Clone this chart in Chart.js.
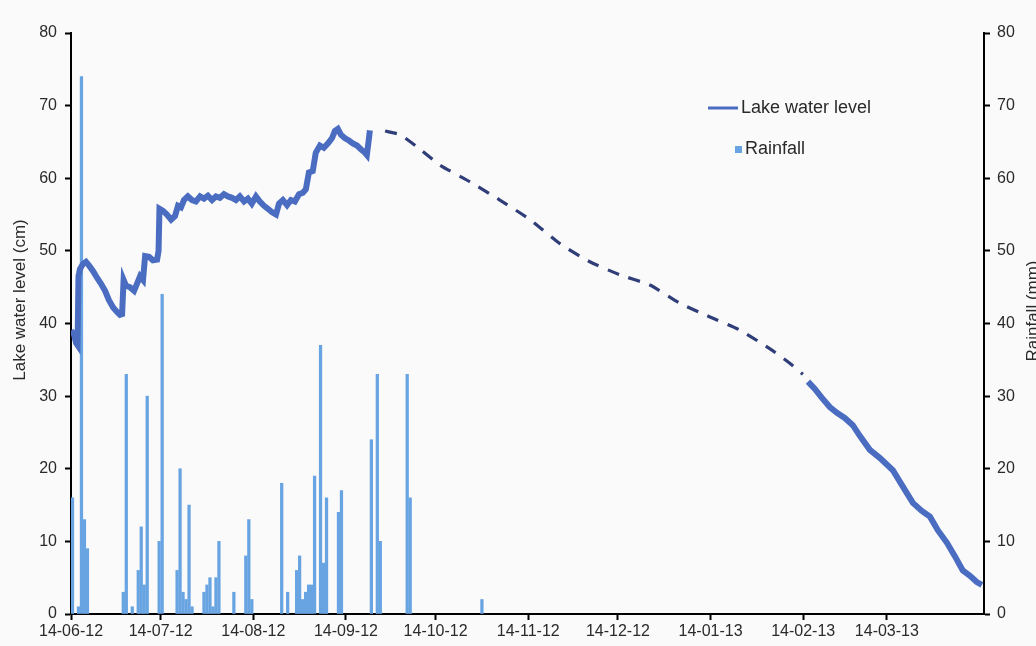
<!DOCTYPE html>
<html>
<head>
<meta charset="utf-8">
<script src="https://cdn.jsdelivr.net/npm/chart.js@4.4.1/dist/chart.umd.min.js"></script>
<style>
  html, body { margin: 0; padding: 0; background: #fafafa; }
  canvas { display: block; }
</style>
</head>
<body>
<canvas id="c" width="1036" height="646"></canvas>
<script>
// Days are counted from 14-06-12 (dd-mm-yy).
const tickDays   = [0, 30, 61, 92, 122, 153, 183, 214, 245, 273];
const tickLabels = ['14-06-12', '14-07-12', '14-08-12', '14-09-12', '14-10-12',
                    '14-11-12', '14-12-12', '14-01-13', '14-02-13', '14-03-13'];

// Measured lake level, first logger period (cm)
const levelDayA = [0, 1.0, 1.7, 2.2, 2.5, 3.0, 4.0, 5.0, 6.0, 7.4, 8.7, 10.0, 11.4, 12.7, 14.1, 15.4,
  16.4, 17.1, 17.6, 18.4, 19.7, 21.1, 22.1, 23.1, 24.1, 24.8, 26.1, 27.4, 28.8, 29.3, 29.6, 30.8,
  32.1, 33.5, 34.8, 35.8, 36.8, 37.8, 39.1, 40.5, 41.8, 43.2, 44.5, 45.8, 47.2, 48.5, 49.8, 51.2,
  52.5, 53.9, 55.2, 56.5, 57.9, 59.2, 60.5, 61.9, 63.2, 64.6, 65.9, 67.3, 68.6, 69.6, 70.9, 72.3,
  73.6, 74.9, 76.3, 77.6, 78.6, 79.6, 80.9, 81.9, 83.3, 84.6, 86.0, 87.3, 88.3, 89.3, 90.3, 91.7,
  93.0, 94.3, 95.7, 97.0, 98.4, 99.0, 99.7, 100.0];
const levelCmA = [39, 38.5, 37.3, 37.0, 46.5, 47.5, 48.2, 48.5, 48, 47.2, 46.3, 45.5, 44.5, 43.2, 42.2, 41.6,
  41.2, 41.3, 46, 45.2, 45.0, 44.5, 45.5, 46.5, 46.0, 49.3, 49.2, 48.7, 48.8, 50, 55.8, 55.5,
  55, 54.3, 54.8, 56.2, 56, 57, 57.5, 57, 56.8, 57.5, 57.2, 57.6, 57, 57.5, 57.3, 57.8,
  57.5, 57.3, 57, 57.5, 56.8, 57.2, 56.5, 57.5, 56.8, 56.2, 55.8, 55.3, 55.0, 56.5, 57, 56.3,
  57, 56.8, 57.8, 58, 58.5, 60.8, 61, 63.5, 64.5, 64.2, 64.8, 65.5, 66.5, 66.8, 66, 65.5,
  65.2, 64.8, 64.5, 64.0, 63.5, 63.2, 65.5, 66.6];

// Estimated lake level between logger periods (cm)
const levelDayEst = [105.1, 110.1, 116.8, 123.5, 133.5, 143.5, 153.6, 163.6, 173.6, 183.7,
  193.7, 203.7, 213.8, 223.8, 233.9, 240.6, 244.9];
const levelCmEst = [66.5, 66, 64, 61.8, 59.5, 57, 54.3, 51, 48.5, 46.7,
  45.3, 42.8, 40.9, 39.1, 36.5, 34.5, 33];

// Measured lake level, second logger period (cm)
const levelDayB = [246.6, 248.9, 251.2, 253.9, 256.3, 258.9, 261.6, 264.0, 267.3, 270.6, 275.0,
  278.4, 281.7, 284.7, 287.4, 290.1, 293.1, 295.7, 298.4, 300.7, 303.1, 304.8];
const levelCmB = [32, 31, 29.8, 28.5, 27.7, 27, 26, 24.5, 22.6, 21.5, 19.8,
  17.5, 15.3, 14.2, 13.4, 11.5, 9.8, 8, 6, 5.3, 4.4, 4];

// Daily rainfall (mm)
const rainDay = [0, 2, 3, 4, 5, 17, 18, 20, 22, 23, 24, 25, 29, 30, 35, 36, 37, 38, 39, 40,
  44, 45, 46, 47, 48, 49, 54, 58, 59, 60, 70, 72, 75, 76, 77, 78, 79, 80, 81, 83, 84, 85,
  89, 90, 100, 102, 103, 112, 113, 137];
const rainMm = [16, 1, 74, 13, 9, 3, 33, 1, 6, 12, 4, 30, 10, 44, 6, 20, 3, 2, 15, 1,
  3, 4, 5, 1, 5, 10, 3, 8, 13, 2, 18, 3, 6, 8, 2, 3, 4, 4, 19, 37, 7, 16,
  14, 17, 24, 33, 10, 33, 16, 2];

const LINE = '#4b6dc1';
const DASH = '#2f3e78';
const BAR  = '#68a4e2';
const FONT = "'Liberation Sans', Arial, sans-serif";
const TEXT = '#2a2a2a';

const pts = (xs, ys, dx = 0) => xs.map((x, i) => ({ x: x + dx, y: ys[i] }));

const overlay = {
  id: 'overlay',
  beforeDraw(chart) {
    const c = chart.ctx;
    c.save();
    c.fillStyle = '#fafafa';
    c.fillRect(0, 0, chart.width, chart.height);
    c.restore();
  },
  afterDraw(chart) {
    const c = chart.ctx;
    c.save();
    c.fillStyle = TEXT;
    c.font = '17px ' + FONT;
    c.textAlign = 'center';
    c.textBaseline = 'middle';
    // axis titles
    c.save(); c.translate(20, 300); c.rotate(-Math.PI / 2);
    c.fillText('Lake water level (cm)', 0, 0); c.restore();
    c.save(); c.translate(1033, 311); c.rotate(-Math.PI / 2);
    c.fillText('Rainfall (mm)', 0, 0); c.restore();
    // legend
    c.font = '18px ' + FONT;
    c.textAlign = 'left';
    c.strokeStyle = LINE; c.lineWidth = 3;
    c.beginPath(); c.moveTo(708, 108); c.lineTo(738, 108); c.stroke();
    c.fillText('Lake water level', 741, 108);
    c.fillStyle = BAR;
    c.fillRect(735, 146, 7, 7);
    c.fillStyle = TEXT;
    c.fillText('Rainfall', 745, 149);
    c.restore();
  }
};

const axisGrid = { display: true, offset: false, drawOnChartArea: false, drawTicks: true,
                   tickLength: 6, tickColor: '#000', tickWidth: 2 };
const axisBorder = { display: true, color: '#000', width: 2 };
const tickFont = { family: FONT, size: 16 };

new Chart(document.getElementById('c'), {
  type: 'line',
  data: {
    datasets: [
      { label: 'Lake water level', data: pts(levelDayA, levelCmA), yAxisID: 'y',
        borderColor: LINE, borderWidth: 6, pointRadius: 0, tension: 0, order: 0 },
      { label: 'Lake water level (estimated)', data: pts(levelDayEst, levelCmEst), yAxisID: 'y',
        borderColor: DASH, borderWidth: 3.2, borderDash: [12, 10], pointRadius: 0, tension: 0.2, order: 0 },
      { label: 'Lake water level', data: pts(levelDayB, levelCmB), yAxisID: 'y',
        borderColor: LINE, borderWidth: 6, pointRadius: 0, tension: 0, order: 0 },
      { type: 'bar', label: 'Rainfall', data: pts(rainDay, rainMm, 0.5), yAxisID: 'y1',
        backgroundColor: BAR, barThickness: 2.6, order: 1 }
    ]
  },
  options: {
    responsive: false,
    animation: false,
    layout: { padding: { top: 33, left: 0, right: 0, bottom: 0 } },
    plugins: { legend: { display: false }, tooltip: { enabled: false } },
    scales: {
      x: {
        type: 'linear', min: 0, max: 305.5, offset: false,
        grid: axisGrid, border: axisBorder,
        afterBuildTicks: s => { s.ticks = tickDays.map(v => ({ value: v })); },
        afterFit: s => { s.height = 32; },
        ticks: { font: tickFont, color: TEXT, padding: 2, maxRotation: 0, autoSkip: false,
                 callback: (v, i) => tickLabels[i] }
      },
      y: {
        position: 'left', min: 0, max: 80,
        grid: axisGrid, border: axisBorder,
        afterFit: s => { s.width = 71; },
        ticks: { stepSize: 10, font: tickFont, color: TEXT, padding: 8 }
      },
      y1: {
        position: 'right', min: 0, max: 80,
        grid: axisGrid, border: axisBorder,
        afterFit: s => { s.width = 52; },
        ticks: { stepSize: 10, font: tickFont, color: TEXT, padding: 7 }
      }
    }
  },
  plugins: [overlay]
});
</script>
</body>
</html>
